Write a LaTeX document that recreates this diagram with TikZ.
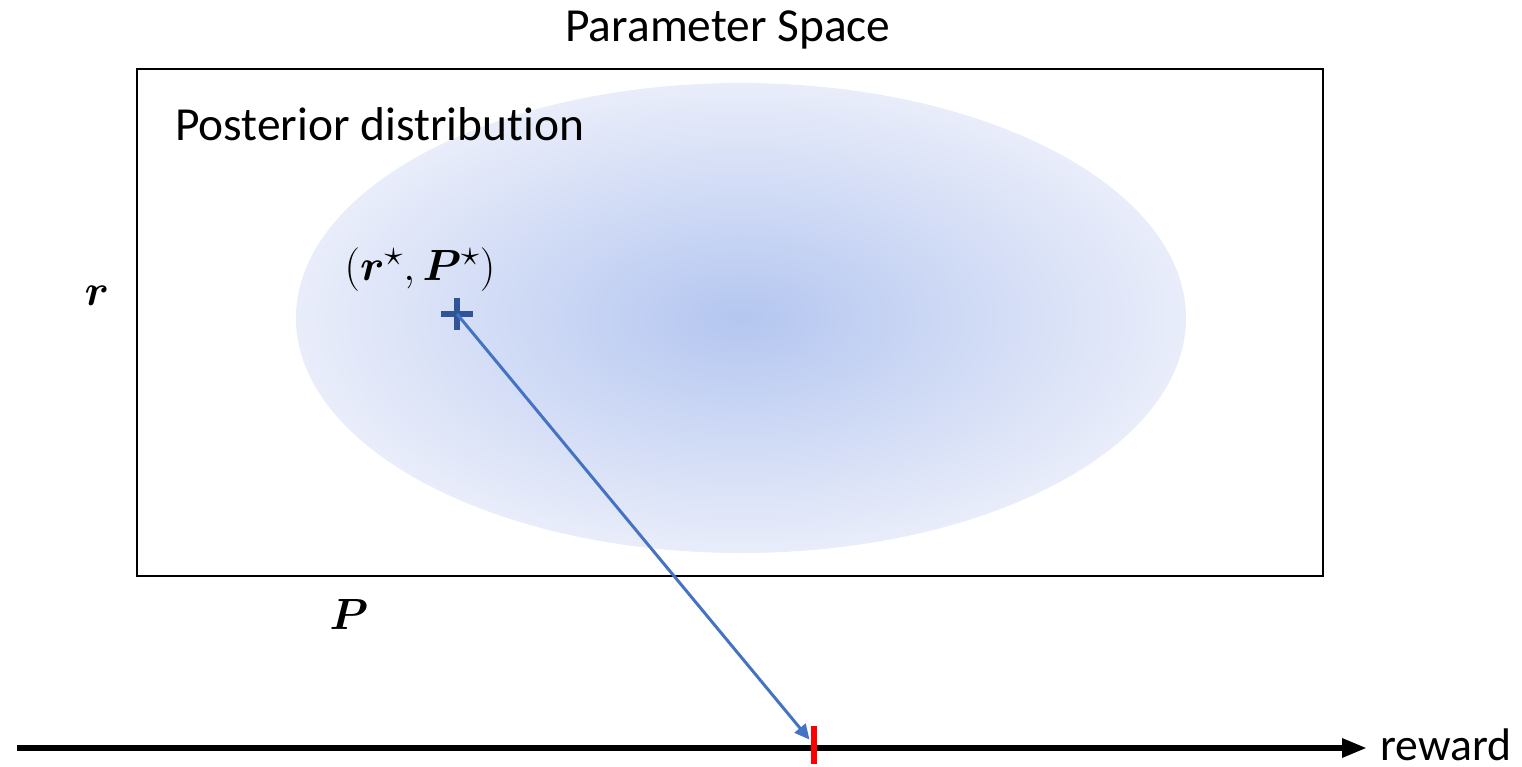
\documentclass[tikz,border=0pt]{standalone}
\usepackage{fontspec}
\usepackage{bm}
\setmainfont{Carlito}[Ligatures=NoCommon]
\usetikzlibrary{positioning,arrows.meta}

\definecolor{postinner}{RGB}{180,198,240}
\definecolor{postouter}{RGB}{233,237,250}
\definecolor{samplecol}{RGB}{68,114,196}
\definecolor{plusblue}{RGB}{47,85,151}
\pgfdeclareradialshading{postshade}{\pgfpoint{0bp}{0bp}}{%
  color(0bp)=(postinner); color(25bp)=(postouter); color(50bp)=(postouter)}

\begin{document}
\begin{tikzpicture}[
  x=0.02cm, y=-0.02cm,
  txt/.style={inner sep=0pt, font=\fontsize{27}{30}\selectfont},
  mtxt/.style={inner sep=0pt, font=\fontsize{30}{33}\selectfont},
  spacebox/.style={draw, line width=1.1pt, minimum width=1186*0.02cm,
                   minimum height=507*0.02cm, inner sep=0pt},
  plusline/.style={draw=plusblue, line width=3.6pt},
  arr/.style={-{Triangle[length=0.3cm,width=0.28cm]}, samplecol, line width=1.7pt},
  axis/.style={-{Triangle[length=0.5cm,width=0.36cm]}, line width=3.4pt},
  ticksty/.style={draw=red, line width=2.9pt}
]
\useasboundingbox (0,0) rectangle (1522,767);

%% ── nodes ───────────────────────────────────────────────────────────────
\node[txt]      (title)  at (728,30)  {Parameter Space};
\node[spacebox] (space)  at (730,322.5) {};

% posterior blob
\shade[shading=postshade] (741,318) ellipse [x radius=445, y radius=235];
\node[txt, anchor=west] (post) at (175,124) {Posterior distribution};

% axis names
\node[mtxt] (rlab) at (97,296)  {$\bm{r}$};
\node[mtxt] (plab) at (349,614) {$\bm{P}$};

% true parameter
\node[mtxt] (star)   at (420,270) {$(\bm{r}^{\star},\bm{P}^{\star})$};
\coordinate (sample) at (457,314);
\draw[plusline] (sample) ++(-16,0) -- ++(32,0);
\draw[plusline] (sample) ++(0,-16) -- ++(0,32);

% reward axis
\coordinate (axstart) at (17,748);
\coordinate (axend)   at (1367,748);
\node[txt, anchor=west, font=\fontsize{26}{29}\selectfont] (reward) at (1380,745) {reward};
\coordinate (tick) at (814,745);

%% ── edges ───────────────────────────────────────────────────────────────
\draw[axis] (axstart) -- (axend);
\draw[arr, shorten >=4] (sample) -- (tick);
\draw[ticksty] (tick) ++(0,-19) -- ++(0,38);

\end{tikzpicture}
\end{document}
